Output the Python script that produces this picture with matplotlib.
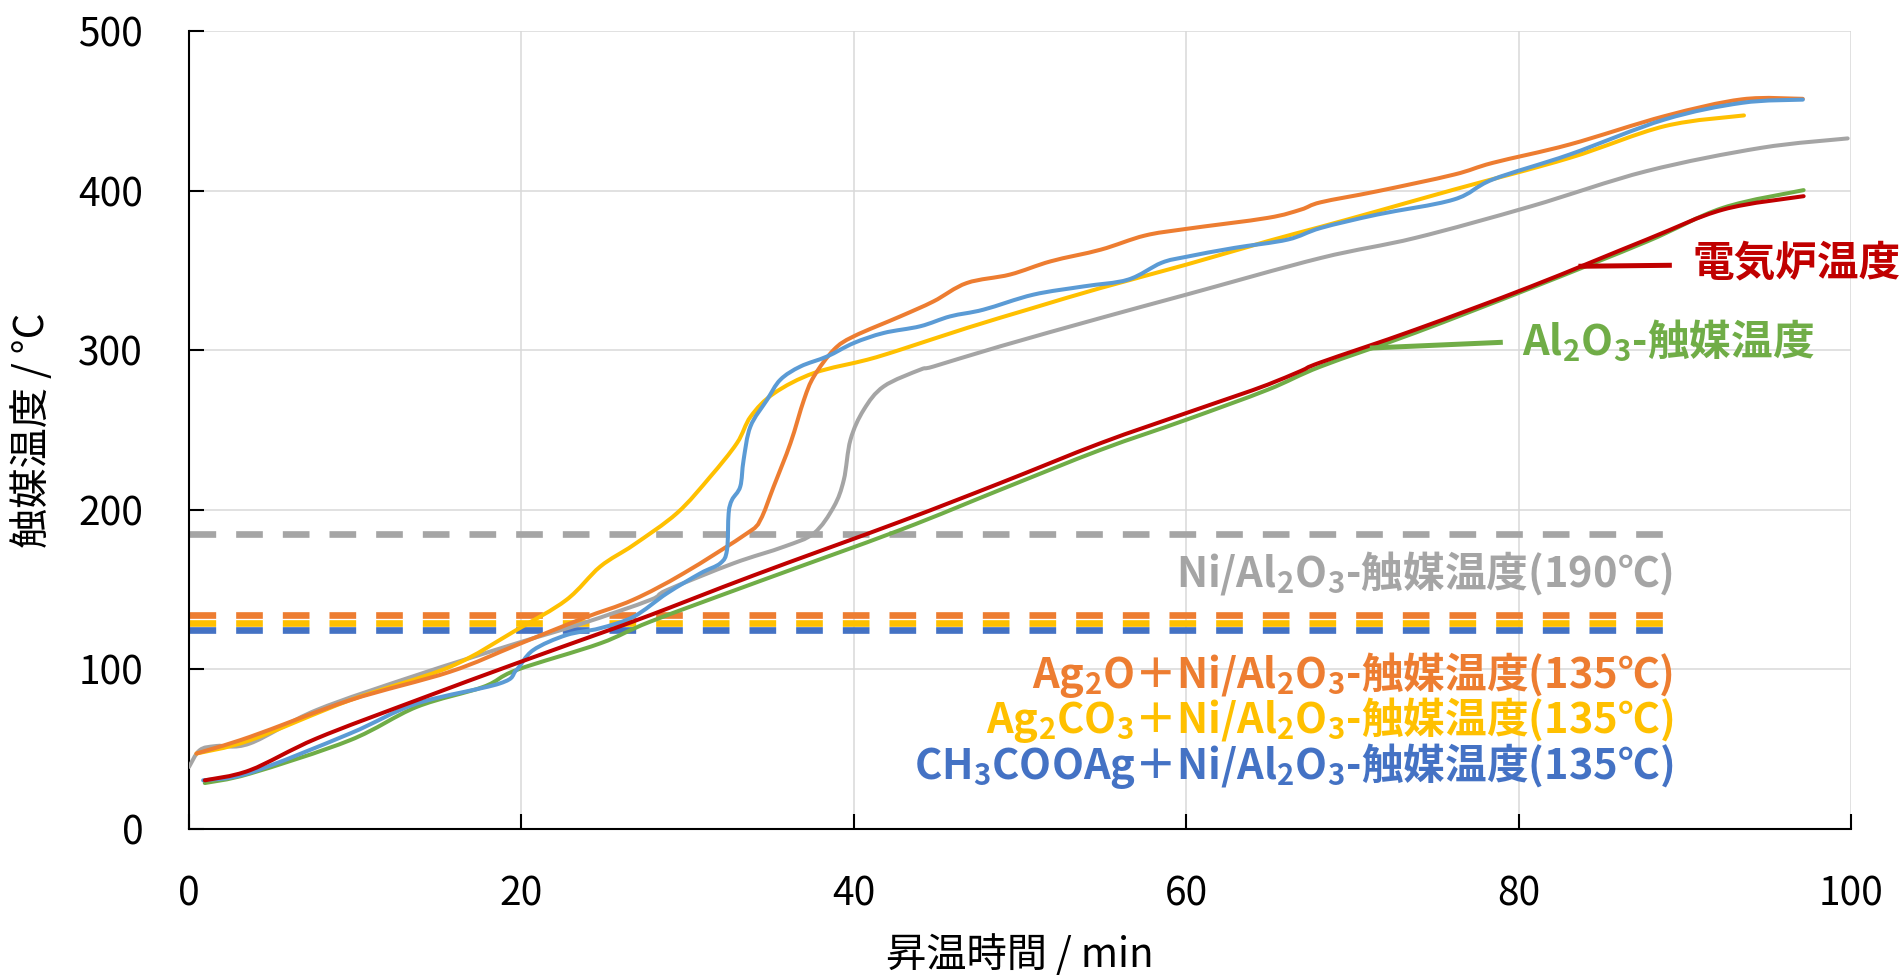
import numpy as np
import matplotlib
matplotlib.use("Agg")
import matplotlib.pyplot as plt
from matplotlib.path import Path
from matplotlib.patches import PathPatch

FONT = ["Noto Sans CJK JP", "DejaVu Sans"]
plt.rcParams["font.family"] = FONT
plt.rcParams["mathtext.default"] = "regular"

# --- data (time in min, temperature in degC) ---
furnace_t = [0.95, 3.66, 7.67, 13.7, 19.7, 24.74, 27.75, 34.0, 42.8, 48.8, 54.86,
             60.0, 62.9, 64.9, 66.9, 68.1, 73.8, 80.76, 87.7, 92.3, 97.15]
furnace_T = [30.5, 36.8, 56.7, 80.7, 103.8, 122.6, 134.0, 159.0, 192.6, 216.7, 241.8,
             260.6, 271.0, 278.4, 287.0, 292.4, 312.9, 340.0, 369.3, 388.1, 396.5]

al2o3_t = [0.95, 3.66, 9.68, 13.7, 17.7, 19.7, 24.74, 27.75, 34.0, 42.8, 48.8, 54.86,
           60.0, 64.9, 68.1, 73.8, 80.76, 87.7, 92.3, 97.15]
al2o3_T = [28.8, 34.7, 55.6, 76.5, 89.0, 99.6, 116.3, 129.9, 154.0, 187.4, 212.5, 237.6,
           256.4, 275.2, 289.8, 311.0, 339.0, 368.0, 389.2, 400.3]

ni_t = [0.0, 0.65, 1.65, 3.66, 7.67, 13.7, 19.7, 23.7, 27.75, 28.76, 32.77, 35.8, 37.6,
        38.8, 39.4, 39.8, 40.6, 41.8, 44.0, 44.8, 48.8, 54.86, 60.0, 68.1, 73.8, 80.76,
        87.7, 94.6, 99.8]
ni_T = [38.9, 49.4, 52.0, 53.6, 74.5, 96.4, 116.3, 128.9, 143.5, 149.7, 166.5, 176.9, 185.3,
        202.0, 218.8, 243.9, 262.7, 277.3, 287.8, 289.8, 302.4, 320.2, 334.8, 357.8, 370.4,
        390.2, 412.2, 426.8, 432.7]

ag2o_t = [0.45, 3.66, 9.68, 15.7, 19.7, 23.7, 26.7, 29.76, 33.58, 34.38, 35.18, 36.19,
          37.0, 37.6, 38.8, 40.0, 42.8, 44.8, 46.8, 49.4, 51.85, 54.86, 57.5, 60.0, 64.9,
          66.9, 68.1, 71.5, 76.1, 78.45, 83.07, 88.8, 93.45, 97.1]
ag2o_T = [47.3, 57.7, 80.7, 98.5, 115.2, 132.0, 143.5, 160.2, 185.3, 193.7, 214.6, 241.8,
          268.9, 283.6, 300.3, 308.7, 321.2, 330.6, 342.1, 347.4, 355.7, 363.0, 371.8, 376.0,
          382.9, 388.1, 392.7, 399.6, 410.0, 417.4, 428.9, 446.7, 457.2, 457.5]

ag2co3_t = [0.45, 3.66, 9.68, 15.7, 19.7, 22.7, 24.74, 26.75, 29.36, 31.37, 32.97, 33.8,
            35.2, 37.6, 40.8, 42.8, 46.8, 50.8, 54.86, 60.0, 64.9, 68.1, 71.5, 76.1, 83.07,
            88.8, 93.56]
ag2co3_T = [47.3, 55.6, 80.7, 101.6, 124.7, 143.5, 164.4, 178.0, 197.9, 220.8, 241.8, 258.5,
            273.0, 285.7, 294.0, 300.3, 313.9, 326.5, 339.0, 353.6, 368.3, 377.3, 387.1, 400.6,
            420.5, 440.4, 447.1]

acetate_t = [0.85, 3.66, 9.68, 13.7, 18.7, 19.7, 20.7, 22.7, 24.7, 26.75, 28.76, 30.77,
             31.97, 32.37, 32.47, 32.67, 33.17, 33.37, 33.78, 34.78, 35.58, 36.79, 38.4, 40.0,
             41.8, 44.0, 45.8, 47.8, 50.8, 53.85, 56.5, 58.5, 60.0, 62.9, 66.1, 68.1, 71.5,
             76.1, 78.45, 83.07, 88.8, 93.45, 97.1]
acetate_T = [30.5, 35.2, 59.8, 78.6, 91.2, 99.6, 112.0, 121.5, 125.7, 133.0, 147.7, 160.2,
             166.5, 174.8, 197.9, 206.2, 214.6, 231.3, 252.2, 268.9, 281.5, 289.8, 296.1, 304.5,
             310.8, 315.0, 321.2, 325.4, 334.8, 340.0, 344.2, 354.7, 358.5, 364.1, 369.3, 376.6,
             385.0, 394.4, 407.0, 422.6, 444.6, 455.0, 457.0]

# dashed reference lines (drawn slightly apart so all three are visible)
ref_levels = [184.9, 133.9, 129.2, 124.7]
ref_end = 88.8

GRAY = "#A5A5A5"
ORANGE = "#ED7D31"
YELLOW = "#FFC000"
LBLUE = "#5B9BD5"
BLUE = "#4472C4"
GREEN = "#70AD47"
RED = "#C00000"


def smooth_line(ax, x, y, color, lw, zorder):
    # Excel-style "smoothed line": cubic Bezier through every data point
    p = np.column_stack([x, y])
    n = len(p)
    verts, codes = [p[0]], [Path.MOVETO]
    for i in range(n - 1):
        p0, p1 = p[max(i - 1, 0)], p[i]
        p2, p3 = p[i + 1], p[min(i + 2, n - 1)]
        verts += [p1 + (p2 - p0) / 6, p2 - (p3 - p1) / 6, p2]
        codes += [Path.CURVE4] * 3
    ax.add_patch(PathPatch(Path(verts, codes), fill=False, edgecolor=color, lw=lw,
                           capstyle="round", joinstyle="round", zorder=zorder))


fig = plt.figure(figsize=(19.01, 9.76), dpi=100)
ax = fig.add_axes([189 / 1901, 1 - 829 / 976, 1662 / 1901, 798 / 976])

dash = (0, (4, 3))
for level, col in zip(ref_levels, [GRAY, ORANGE, YELLOW, BLUE]):
    ax.plot([0, ref_end], [level, level], color=col, lw=4.8, linestyle=dash,
            solid_capstyle="butt", zorder=2)

lw = 2.9
smooth_line(ax, ni_t, ni_T, GRAY, lw, 3)
smooth_line(ax, al2o3_t, al2o3_T, GREEN, lw, 3)
smooth_line(ax, ag2co3_t, ag2co3_T, YELLOW, lw, 3)
smooth_line(ax, ag2o_t, ag2o_T, ORANGE, lw, 3)
smooth_line(ax, acetate_t, acetate_T, LBLUE, lw, 3)
smooth_line(ax, furnace_t, furnace_T, RED, lw, 4)

ax.set_xlim(0, 100)
ax.set_ylim(0, 500)
ax.set_xticks(np.arange(0, 101, 20))
ax.set_yticks(np.arange(0, 501, 100))
ax.grid(color="#D9D9D9", lw=1.1, zorder=0)
ax.set_axisbelow(True)
for side in ["top", "right"]:
    ax.spines[side].set_visible(False)
for side in ["left", "bottom"]:
    ax.spines[side].set_linewidth(1.5)
ax.tick_params(direction="in", length=11, width=1.5, labelsize=28, pad=33)

ax.set_xlabel("昇温時間 / min", fontsize=29, va="center")
ax.xaxis.set_label_coords(0.5, -0.158)
ax.set_ylabel("触媒温度 / °C", fontsize=29, va="center")
ax.yaxis.set_label_coords(-0.0945, 0.5)

# leader lines + labels
bold = dict(fontsize=30, fontweight="bold", family=FONT)
ax.plot([83.75, 89.07], [352.6, 353.2], color=RED, lw=3.6, zorder=5)
ax.text(90.45, 354.6, "電気炉温度", color=RED, ha="left", va="center", **bold)
ax.plot([71.2, 78.9], [301.4, 304.9], color=GREEN, lw=3.6, zorder=5)
ax.text(80.2, 305.5, "Al$_2$O$_3$-触媒温度", color=GREEN, ha="left", va="center", **bold)

ax.text(89.3, 160.2, "Ni/Al$_2$O$_3$-触媒温度(190℃)", color=GRAY,
        ha="right", va="center", **bold)
ax.text(89.3, 96.6, "Ag$_2$O＋Ni/Al$_2$O$_3$-触媒温度(135℃)", color=ORANGE,
        ha="right", va="center", **bold)
ax.text(89.3, 68.4, "Ag$_2$CO$_3$＋Ni/Al$_2$O$_3$-触媒温度(135℃)", color=YELLOW,
        ha="right", va="center", **bold)
ax.text(89.3, 39.6, "CH$_3$COOAg＋Ni/Al$_2$O$_3$-触媒温度(135℃)", color=BLUE,
        ha="right", va="center", **bold)

fig.savefig("out.png", dpi=100)
